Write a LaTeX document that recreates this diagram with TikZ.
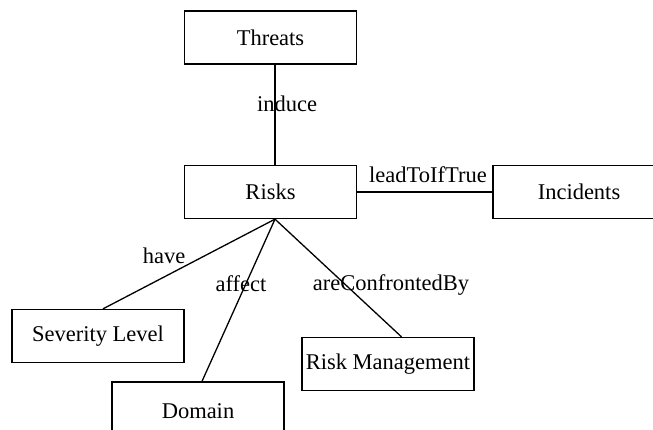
\documentclass[tikz,border=0pt]{standalone}
\usepackage{fontspec}
\setmainfont{Liberation Serif}
\begin{document}
\begin{tikzpicture}[x=1pt,y=-1pt,
  concept/.style={draw, line width=1.3pt, inner sep=0pt, minimum width=172pt,
    minimum height=53pt, font=\fontsize{22.5}{26}\selectfont},
  link/.style={line width=1.3pt},
  rel/.style={inner sep=0pt, font=\fontsize{22.5}{26}\selectfont}]
  \useasboundingbox (0,0) rectangle (653,430);
  \clip (0,0) rectangle (653,430);

  % concepts
  \node[concept] (threats)   at (270.5,37.5) {Threats};
  \node[concept] (risks)     at (270.5,192)  {Risks};
  \node[concept] (incidents) at (579,192)    {Incidents};
  \node[concept] (severity)  at (98,336)     {Severity Level};
  \node[concept, minimum height=58pt] (domain) at (198,411) {Domain};
  \node[concept] (riskmgmt)  at (388,364)    {Risk Management};

  % relations
  \draw[link] ([xshift=4.5pt]threats.south) -- ([xshift=4.5pt]risks.north);
  \draw[link] (risks.east) -- (incidents.west);
  \draw[link] ([xshift=4.5pt]risks.south) -- ([xshift=5pt]severity.north);
  \draw[link] ([xshift=4.5pt]risks.south) -- ([xshift=4pt]domain.north);
  \draw[link] ([xshift=4.5pt]risks.south) -- ([xshift=13.5pt]riskmgmt.north);

  % relation names
  \node[rel] (induce) at (287,104) {induce};
  \node[rel] (lead)   at (428,175) {leadToIfTrue};
  \node[rel] (have)   at (164,256) {have};
  \node[rel] (affect) at (241,284) {affect};
  \node[rel] (conf)   at (391,285) {areConfrontedBy};
\end{tikzpicture}
\end{document}
